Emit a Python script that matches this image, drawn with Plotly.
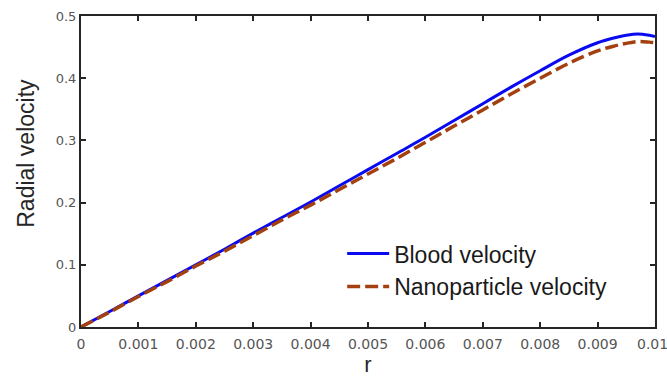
import plotly.graph_objects as go

r = [0, 0.0005, 0.001, 0.0015, 0.002, 0.0025, 0.003, 0.0035, 0.004, 0.0045, 0.005,
     0.0055, 0.006, 0.0065, 0.007, 0.0075, 0.008, 0.0085, 0.009, 0.0093, 0.0095,
     0.0097, 0.0099, 0.01]
blood = [0, 0.025, 0.050, 0.075, 0.100, 0.125, 0.151, 0.176, 0.201, 0.227, 0.253,
         0.279, 0.305, 0.332, 0.359, 0.386, 0.412, 0.437, 0.457, 0.465, 0.469,
         0.471, 0.469, 0.467]
nano = [0, 0.024, 0.049, 0.073, 0.098, 0.122, 0.147, 0.172, 0.196, 0.221, 0.246,
        0.271, 0.297, 0.323, 0.349, 0.375, 0.400, 0.424, 0.444, 0.452, 0.456,
        0.459, 0.458, 0.457]
xticks = [0, 0.001, 0.002, 0.003, 0.004, 0.005, 0.006, 0.007, 0.008, 0.009, 0.01]
xticklabels = ["0", "0.001", "0.002", "0.003", "0.004", "0.005", "0.006", "0.007", "0.008", "0.009", "0.01"]
yticks = [0, 0.1, 0.2, 0.3, 0.4, 0.5]
yticklabels = ["0", "0.1", "0.2", "0.3", "0.4", "0.5"]

fig = go.Figure()
fig.add_trace(go.Scatter(x=r, y=blood, mode="lines", name="Blood velocity",
                         line=dict(color="#0a0af0", width=3, shape="spline")))
fig.add_trace(go.Scatter(x=r, y=nano, mode="lines", name="Nanoparticle velocity",
                         line=dict(color="#a3400f", width=3.5, dash="13px,5px", shape="spline")))

tickfont_x = dict(family="DejaVu Sans", size=14, color="#555555")

axis_common = dict(showline=True, mirror="ticks", linecolor="#262626", linewidth=2,
                   ticks="inside", ticklen=5, tickwidth=2, tickcolor="#262626",
                   showgrid=False, zeroline=False, automargin=False)
# last x tick label drawn as an annotation so it stays inside the picture
fig.update_xaxes(range=[0, 0.01], tickvals=xticks[:-1], ticktext=xticklabels[:-1],
                 tickfont=tickfont_x, ticklabelstandoff=3,
                 title=dict(text="r", font=dict(family="Liberation Sans, Arial", size=22, color="#262626"), standoff=4),
                 **axis_common)
fig.add_annotation(text=xticklabels[-1], xref="x", yref="paper", x=xticks[-1], y=0,
                   xanchor="center", yanchor="top", yshift=-7, xshift=-3,
                   showarrow=False, font=tickfont_x)
fig.update_yaxes(range=[0, 0.5], tickvals=yticks, ticktext=yticklabels,
                 tickfont=dict(family="DejaVu Sans", size=13, color="#555555"),
                 **axis_common)

fig.add_annotation(text="Radial velocity", textangle=-90, xref="paper", yref="paper",
                   x=-0.096, y=0.56, xanchor="center", yanchor="middle", showarrow=False,
                   font=dict(family="Liberation Sans, Arial", size=23, color="#262626"))

fig.update_layout(
    width=667, height=378,
    margin=dict(l=81, r=12, t=16, b=51),
    paper_bgcolor="white", plot_bgcolor="white",
    legend=dict(x=0.455, y=0.305, xanchor="left", yanchor="top",
                font=dict(family="Liberation Sans, Arial", size=23, color="#1a1a1a"),
                bgcolor="rgba(255,255,255,0)", tracegroupgap=0, itemwidth=42),
    showlegend=True,
)

fig.write_html("out.html")
